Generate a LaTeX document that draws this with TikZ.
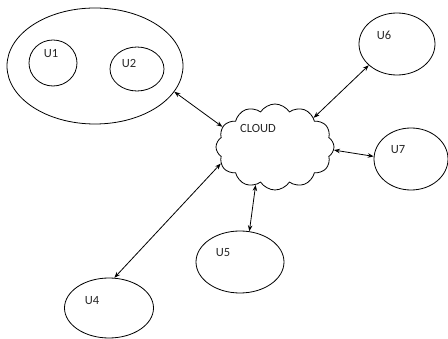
\documentclass[tikz,border=0pt]{standalone}
\usepackage{fontspec}
\setmainfont{Carlito}
\usetikzlibrary{shapes.geometric,shapes.symbols,arrows.meta}
\begin{document}
\begin{tikzpicture}[x=1pt,y=-1pt,
  oval/.style={draw,ellipse,inner sep=0pt,line width=0.8pt},
  lbl/.style={font=\fontsize{12.5}{14}\selectfont,inner sep=0pt,text=black!85},
  link/.style={{Stealth[length=6pt,width=4.5pt]}-{Stealth[length=6pt,width=4.5pt]},line width=0.8pt}]
\useasboundingbox (0,0) rectangle (448,339);
% group ellipse
\node[oval,minimum width=176pt,minimum height=116pt] (grp) at (95,66) {};
\node[oval,minimum width=48pt,minimum height=46pt] (u1) at (53,63) {};
\node[oval,minimum width=54pt,minimum height=44pt] (u2) at (137,69) {};
\node[lbl] (l1) at (51,54) {U1};
\node[lbl] (l2) at (129,63) {U2};
% cloud
\node[draw,cloud,cloud puffs=12,cloud puff arc=115,cloud ignores aspect,
      minimum width=118pt,minimum height=86pt,inner sep=0pt,line width=0.8pt] (cl) at (275,147) {};
\node[lbl] (lc) at (258,128) {CLOUD};
% users
\node[oval,minimum width=76pt,minimum height=62pt] (u6) at (397,44) {};
\node[lbl] (l6) at (384,35) {U6};
\node[oval,minimum width=74pt,minimum height=62pt] (u7) at (411,159) {};
\node[lbl] (l7) at (398,150) {U7};
\node[oval,minimum width=88pt,minimum height=62pt] (u5) at (240,262) {};
\node[lbl] (l5) at (223,253) {U5};
\node[oval,minimum width=89pt,minimum height=60pt] (u4) at (109,308) {};
\node[lbl] (l4) at (92,301) {U4};
% links
\draw[link] (grp.-18) -- (cl.159);
\draw[link] (cl.37) -- (u6.217);
\draw[link] (cl.-3) -- (u7.176);
\draw[link] (cl.243) -- (u5.73);
\draw[link] (cl.197) -- (u4.80);
\end{tikzpicture}
\end{document}
